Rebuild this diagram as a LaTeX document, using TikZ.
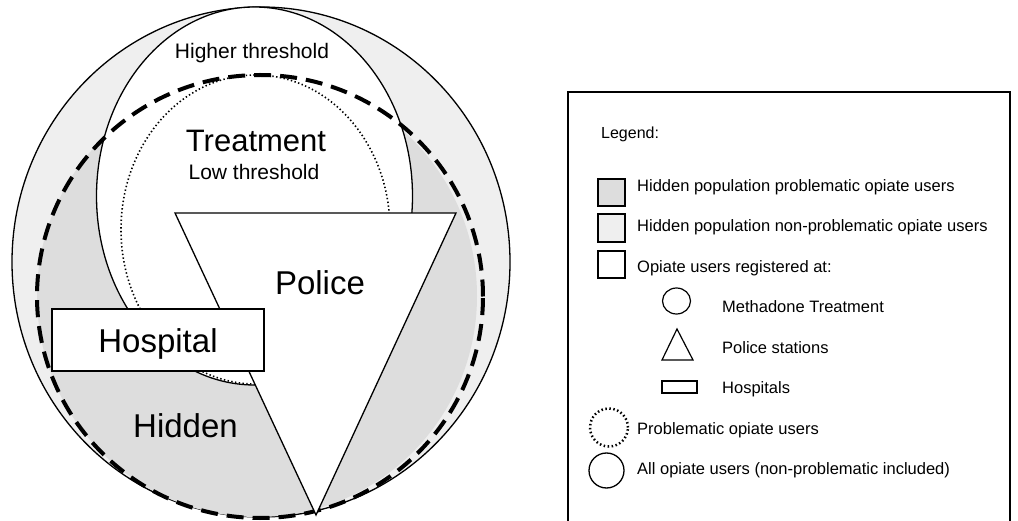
\documentclass[tikz,border=0pt]{standalone}
\usepackage{fontspec}
\setmainfont{Liberation Sans}
\usetikzlibrary{calc}
\definecolor{PaleClr}{gray}{0.937}
\definecolor{HiddenClr}{gray}{0.867}

\begin{document}
\begin{tikzpicture}[x=1pt,y=-1pt,
  solidline/.style={draw=black,line width=1.3pt},
  dashline/.style={draw=black,line width=4pt,dash pattern=on 17pt off 9pt},
  dotline/.style={draw=black,line width=1.6pt,dash pattern=on 1.4pt off 2.4pt},
  keybox/.style={draw=black,line width=1.5pt},
  bigtext/.style={font=\fontsize{33}{36}\selectfont,anchor=base},
  midtext/.style={font=\fontsize{21}{24}\selectfont,anchor=base},
  keytext/.style={font=\fontsize{16.5}{19}\selectfont,anchor=base west,inner sep=0pt}]
\useasboundingbox (0,0) rectangle (1018,521);
\clip (0,0) rectangle (1018,521);

% All opiate users and the hidden problematic ones.
\path[solidline,fill=PaleClr] (261,262) ellipse [x radius=249pt,y radius=255pt];
\fill[HiddenClr] (257,296) ellipse [x radius=220pt,y radius=221pt];

% Treatment, higher and low threshold.
\path[solidline,fill=white] (254.5,196) ellipse [x radius=158pt,y radius=189pt];
\path[dotline,fill=white] (255.5,229.5) ellipse [x radius=134.5pt,y radius=154.5pt];

% Problematic opiate users.
\draw[dashline] (260,296.5) ellipse [x radius=223pt,y radius=221.5pt];

% Police and hospital.
\coordinate (P1) at (175,213);
\coordinate (P2) at (456,213);
\coordinate (P3) at (316,515);
\path[solidline,fill=white] (P1) -- (P2) -- (P3) -- cycle;
\path[solidline,fill=white] (52,309) rectangle (264,371);

\node[midtext] (higher) at (252,59) {Higher threshold};
\node[bigtext,font=\fontsize{31}{34}\selectfont] (treat) at (256,152) {Treatment};
\node[midtext] (low) at (254,180) {Low threshold};
\node[bigtext] (police) at (320,295) {Police};
\node[bigtext] (hospital) at (158,353) {Hospital};
\node[bigtext] (hidden) at (185.5,437) {Hidden};

% Legend.
\draw[line width=1.5pt] (568,530) |- (1010,92) -- (1010,530);
\node[keytext,font=\fontsize{16}{19}\selectfont] (legend) at (601,139) {Legend:};

\path[keybox,fill=HiddenClr] (598,179) rectangle (625,206);
\path[keybox,fill=PaleClr] (598,214) rectangle (625,242);
\path[keybox,fill=white] (598,251) rectangle (625,278);
\draw[line width=1.2pt] (676.5,301) ellipse [x radius=14pt,y radius=13pt];
\draw[line width=1.2pt] (677,329) -- (693,360) -- (662,360) -- cycle;
\draw[line width=1.2pt] (662,381) rectangle (697,393);
\draw[line width=2.5pt,dash pattern=on 1.5pt off 2.5pt] (609,427.5) circle [radius=19pt];
\draw[line width=1.3pt] (606.5,470.5) circle [radius=17.5pt];

\node[keytext] (kprob) at (637,192) {Hidden population problematic opiate users};
\node[keytext] (knon) at (637,232) {Hidden population non-problematic opiate users};
\node[keytext] (kreg) at (637,273) {Opiate users registered at:};
\node[keytext] (kmeth) at (722,313) {Methadone Treatment};
\node[keytext] (kpol) at (722,354) {Police stations};
\node[keytext] (khosp) at (722,394) {Hospitals};
\node[keytext] (kdot) at (637,434) {Problematic opiate users};
\node[keytext] (kall) at (637,474) {All opiate users (non-problematic included)};
\end{tikzpicture}
\end{document}
